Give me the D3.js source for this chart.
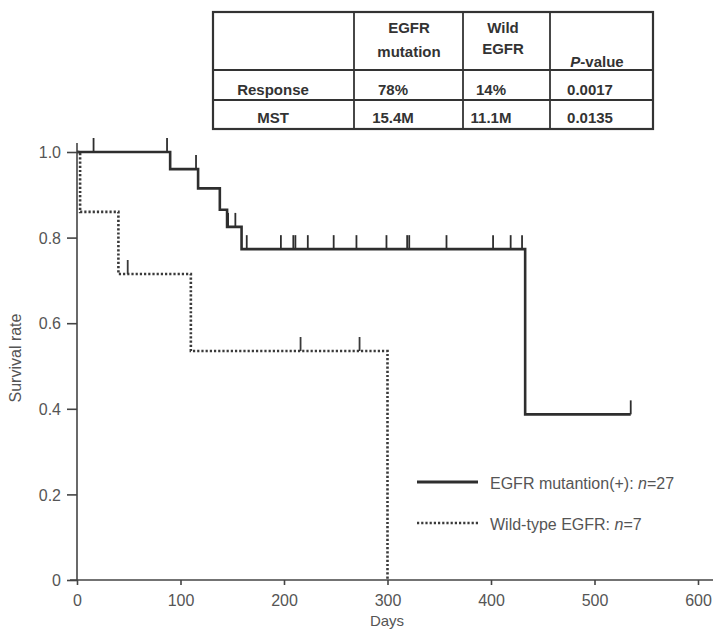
<!DOCTYPE html>
<meta charset="utf-8">
<title>Survival by EGFR status</title>
<style>
	body { margin: 0; background: #fff; }
	svg text { font-family: "Liberation Sans", Arial, sans-serif; }
	.axis text { fill: #555; font-size: 16px; }
	.axis line, .axis path { stroke: #444; stroke-width: 1.6; }
	.cell { fill: #333; font-size: 15px; font-weight: bold; }
	.legend text { fill: #555; font-size: 16px; }
</style>
<body>
<script src="https://cdn.jsdelivr.net/npm/d3@7"></script>
<script>

	// Kaplan-Meier steps (days, survival after the step)
	var mutDays = [0, 90, 117, 138, 145, 159, 433, 535],
		mutSurv = [1, 0.96, 0.915, 0.865, 0.825, 0.773, 0.387, 0.387],
		mutCensor = [16, 87, 115, 146, 153, 164, 197, 209, 211, 223, 248, 270, 299, 319, 321, 357, 402, 419, 430, 535];

	var wildDays = [0, 3, 40, 110, 300],
		wildSurv = [1, 0.86, 0.715, 0.535, 0],
		wildCensor = [49, 216, 273];

	// table on top
	var colHeads = [["", ""], ["EGFR", "mutation"], ["Wild", "EGFR"], ["P-value"]],
		rowNames = ["Response", "MST"],
		rowValues = [["78%", "14%", "0.0017"], ["15.4M", "11.1M", "0.0135"]];

	var legendLabels = ["EGFR mutantion(+): ", "Wild-type EGFR: "],
		legendN = ["27", "7"];

	var xTicks = [0, 100, 200, 300, 400, 500, 600],
		yTicks = [0, 0.2, 0.4, 0.6, 0.8, 1.0];

	var W = 713, H = 631;

	var svg = d3.select("body").append("svg")
		.attr("width", W)
		.attr("height", H);

	var x = d3.scaleLinear().domain([0, 600]).range([77, 698]),
		y = d3.scaleLinear().domain([0, 1]).range([580, 152]);

	// ---- table ----
	var tb = svg.append("g");
	var colX = [213, 354, 463, 550, 653],
		rowY = [12, 70, 100, 129];

	tb.append("rect")
		.attr("x", colX[0]).attr("y", rowY[0])
		.attr("width", colX[4] - colX[0]).attr("height", rowY[3] - rowY[0])
		.attr("fill", "none").attr("stroke", "#333").attr("stroke-width", 2.2);
	colX.slice(1, 4).forEach(function(cx) {
		tb.append("line").attr("x1", cx).attr("x2", cx).attr("y1", rowY[0]).attr("y2", rowY[3])
			.attr("stroke", "#333").attr("stroke-width", 1.8);
	});
	rowY.slice(1, 3).forEach(function(ry) {
		tb.append("line").attr("x1", colX[0]).attr("x2", colX[4]).attr("y1", ry).attr("y2", ry)
			.attr("stroke", "#333").attr("stroke-width", 1.8);
	});

	var headX = [0, 409, 503, 597];
	colHeads.forEach(function(h, i) {
		if (i === 0) return;
		if (h.length === 2) {
			tb.append("text").attr("class", "cell").attr("x", headX[i]).attr("y", 33)
				.attr("text-anchor", "middle").text(h[0]);
			tb.append("text").attr("class", "cell").attr("x", headX[i]).attr("y", i === 1 ? 57 : 54)
				.attr("text-anchor", "middle").text(h[1]);
		} else {
			var t = tb.append("text").attr("class", "cell").attr("x", headX[i]).attr("y", 67)
				.attr("text-anchor", "middle");
			t.append("tspan").attr("font-style", "italic").text(h[0].split("-")[0]);
			t.append("tspan").text("-" + h[0].split("-")[1]);
		}
	});

	var rowBase = [95, 123],
		valX = [393, 491, 590];
	rowNames.forEach(function(r, i) {
		tb.append("text").attr("class", "cell").attr("x", 273).attr("y", rowBase[i])
			.attr("text-anchor", "middle").text(r);
		rowValues[i].forEach(function(v, j) {
			tb.append("text").attr("class", "cell").attr("x", valX[j]).attr("y", rowBase[i])
				.attr("text-anchor", "middle").text(v);
		});
	});

	// ---- axes ----
	var gx = svg.append("g").attr("class", "axis")
		.attr("transform", "translate(0," + y(0) + ")")
		.call(d3.axisBottom(x).tickValues(xTicks).tickSize(5).tickPadding(10).tickFormat(d3.format("d")));
	gx.select(".domain").remove();
	gx.append("line").attr("x1", 70).attr("x2", W).attr("y1", 0).attr("y2", 0);

	var gy = svg.append("g").attr("class", "axis")
		.attr("transform", "translate(" + x(0) + ",0)")
		.call(d3.axisLeft(y).tickValues(yTicks).tickSize(10).tickPadding(6)
			.tickFormat(function(d) { return d === 0 ? "0" : d3.format(".1f")(d); }));
	gy.select(".domain").remove();
	gy.append("line").attr("x1", 0).attr("x2", 0).attr("y1", y(0)).attr("y2", 143);
	gy.selectAll(".tick text").attr("dy", "0.36em");

	svg.append("text")
		.attr("transform", "translate(21," + 358 + ") rotate(-90)")
		.attr("text-anchor", "middle")
		.attr("fill", "#555").attr("font-size", "16px")
		.text("Survival rate");

	svg.append("text")
		.attr("x", 387).attr("y", 626)
		.attr("text-anchor", "middle")
		.attr("fill", "#555").attr("font-size", "15px")
		.text("Days");

	// ---- curves ----
	var line = d3.line()
		.x(function(d) { return x(d[0]); })
		.y(function(d) { return y(d[1]); })
		.curve(d3.curveStepAfter);

	function stepAt(days, surv, t) {
		var i = d3.bisectRight(days, t) - 1;
		return surv[Math.max(0, i)];
	}

	function drawCurve(days, surv, censor, style) {
		var pts = days.map(function(d, i) { return [d, surv[i]]; });
		svg.append("path")
			.datum(pts)
			.attr("d", line)
			.attr("fill", "none")
			.attr("stroke", style.color)
			.attr("stroke-width", style.width)
			.attr("stroke-dasharray", style.dash);

		svg.append("g").selectAll("line")
			.data(censor)
			.enter().append("line")
			.attr("x1", function(d) { return x(d); })
			.attr("x2", function(d) { return x(d); })
			.attr("y1", function(d) { return y(stepAt(days, surv, d)); })
			.attr("y2", function(d) { return y(stepAt(days, surv, d)) - 14; })
			.attr("stroke", style.color)
			.attr("stroke-width", 1.8);
	}

	var solidStyle = {color: "#2e2e2e", width: 2.6, dash: null},
		dotStyle = {color: "#3a3a3a", width: 2.6, dash: "2.2,2"};

	drawCurve(mutDays, mutSurv, mutCensor, solidStyle);
	drawCurve(wildDays, wildSurv, wildCensor, dotStyle);

	// ---- legend ----
	var lg = svg.append("g").attr("class", "legend");
	[solidStyle, dotStyle].forEach(function(s, i) {
		var ly = 482 + i * 41;
		lg.append("line")
			.attr("x1", 417).attr("x2", 478).attr("y1", ly).attr("y2", ly)
			.attr("stroke", s.color).attr("stroke-width", i === 0 ? 3.2 : 2.6)
			.attr("stroke-dasharray", s.dash);
		var t = lg.append("text").attr("x", 490).attr("y", ly + 7);
		t.append("tspan").text(legendLabels[i]);
		t.append("tspan").attr("font-style", "italic").text("n");
		t.append("tspan").text("=" + legendN[i]);
	});

</script>
</body>
